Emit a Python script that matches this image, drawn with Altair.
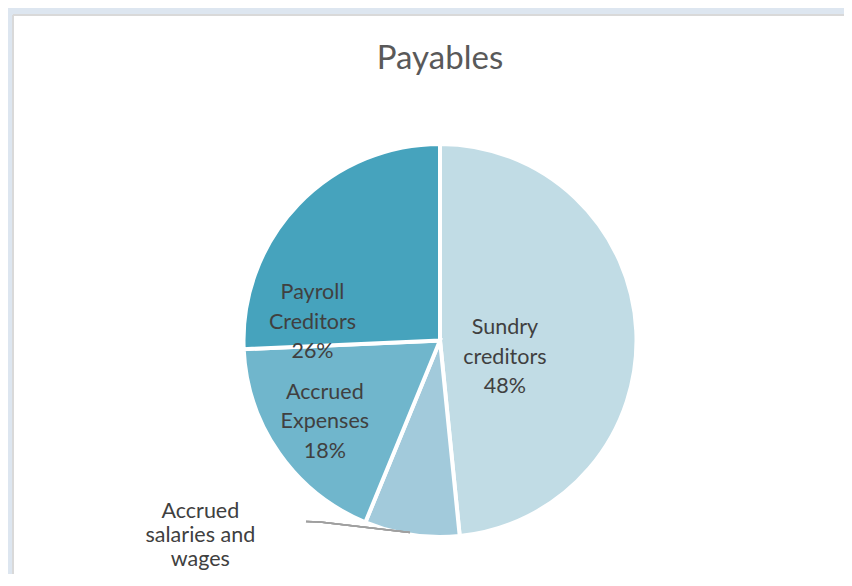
import altair as alt
import pandas as pd

# ---- data ----
categories = ["Sundry creditors", "Accrued salaries and wages", "Accrued Expenses", "Payroll Creditors"]
values = [48.4, 7.8, 18.1, 25.7]
label_texts = [
    "Sundry\ncreditors\n48%",
    "Accrued\nsalaries and\nwages",
    "Accrued\nExpenses\n18%",
    "Payroll\nCreditors\n26%",
]
colors = ["#c1dce5", "#a2cadb", "#70b6cc", "#46a3bd"]
title_text = "Payables"

df = pd.DataFrame({
    "category": categories,
    "value": values,
    "label": label_texts,
    "idx": list(range(len(categories))),
})
TOTAL = float(sum(values))

# ---- layout (view coords) ----
W, H = 831, 559
CX, CY = 427, 325.5
R = 196.5
FONT = "Lato"
FS = 21.5

# label placement styling: (radius, dx, dy, lineHeight)
label_style = {
    "Sundry creditors": (65, 0, -3, 29.5),
    "Accrued salaries and wages": (185, -213, -6, 24),
    "Accrued Expenses": (120, -17, -11, 29.5),
    "Payroll Creditors": (110, -48, 35, 29.5),
}

theta_scale = alt.Scale(domain=[0, TOTAL])

pie = alt.Chart(df).mark_arc(outerRadius=R, stroke="white", strokeWidth=4).encode(
    theta=alt.Theta("value:Q", stack=True, scale=theta_scale),
    order=alt.Order("idx:Q"),
    x=alt.value(CX),
    y=alt.value(CY),
    color=alt.Color(
        "category:N",
        scale=alt.Scale(domain=categories, range=colors),
        legend=None,
    ),
)

text_base = alt.Chart(df).transform_window(
    cum="sum(value)", sort=[alt.SortField("idx")]
).transform_calculate(
    mid="datum.cum - datum.value / 2"
)

layers = [pie]
for cat in categories:
    r, dx, dy, lh = label_style[cat]
    layers.append(
        text_base.transform_filter(alt.datum.category == cat).mark_text(
            radius=r, dx=dx, dy=dy, font=FONT, fontSize=FS, color="#404040",
            align="center", baseline="alphabetic", lineBreak="\n", lineHeight=lh,
        ).encode(
            theta=alt.Theta("mid:Q", stack=None, scale=theta_scale),
            x=alt.value(CX),
            y=alt.value(CY),
            text="label:N",
        )
    )

# leader line for the small slice
leader1 = alt.Chart(df).mark_rule(color="#a0a0a0", strokeWidth=1.5).encode(
    x=alt.value(293), x2=alt.value(307), y=alt.value(506.5), y2=alt.value(507)
)
leader2 = alt.Chart(df).mark_rule(color="#a0a0a0", strokeWidth=1.5).encode(
    x=alt.value(307), x2=alt.value(397), y=alt.value(507), y2=alt.value(517.5)
)

title = alt.Chart(pd.DataFrame({"t": [title_text]})).mark_text(
    font=FONT, fontSize=33, color="#595959", align="center", baseline="alphabetic"
).encode(text="t:N", x=alt.value(CX), y=alt.value(54))

# panel border (top and left)
border_top = alt.Chart(df).mark_rule(color="#d9d9d9", strokeWidth=2).encode(
    x=alt.value(0), x2=alt.value(W), y=alt.value(0)
)
border_left = alt.Chart(df).mark_rule(color="#d9d9d9", strokeWidth=2).encode(
    x=alt.value(0), y=alt.value(0), y2=alt.value(H)
)

chart = alt.layer(
    *layers, leader1, leader2, title, border_top, border_left
).properties(
    width=W,
    height=H,
    autosize=alt.AutoSizeParams(type="none"),
    padding={"left": 5, "top": 7, "right": 0, "bottom": 0},
    background="#dde6f0",
).configure_view(fill="white", stroke="transparent")

chart.save("out.html", embed_options={"renderer": "svg", "actions": False})
